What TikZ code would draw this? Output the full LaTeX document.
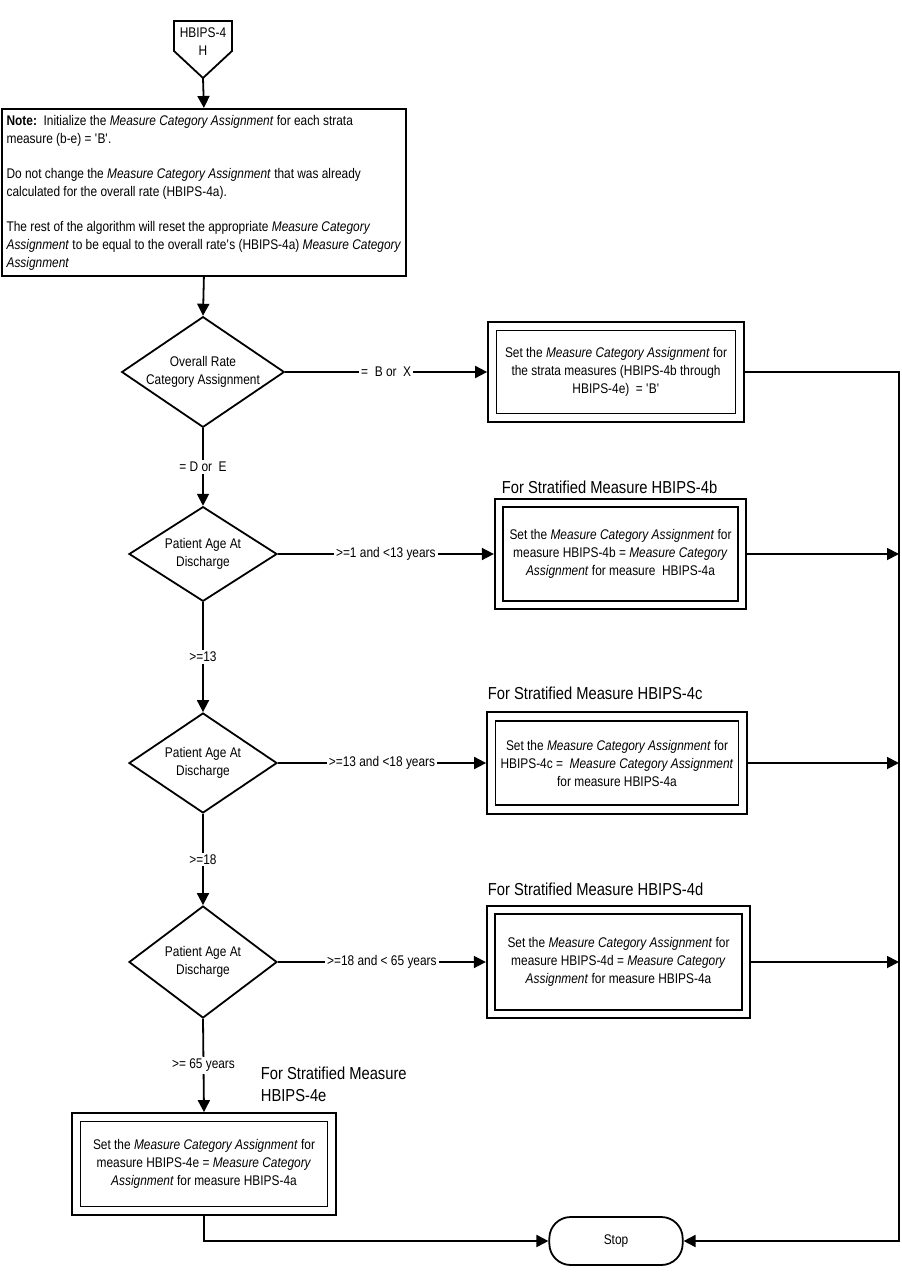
\documentclass[tikz,border=0pt]{standalone}
\usepackage{fontspec}
\setmainfont{Liberation Sans}[FakeStretch=0.85]
\usetikzlibrary{shapes,arrows.meta}

\begin{document}
\begin{tikzpicture}[x=0.75pt,y=-0.75pt,line width=1.35pt,
      every node/.style={font=\fontsize{10.5}{13.5}\selectfont},
      decision/.style={diamond,draw,align=center,inner sep=0pt},
      setbox/.style={rectangle,draw,double,double distance=5pt,align=center,inner sep=2pt,outer sep=3.85pt},
      ttl/.style={anchor=west,inner sep=0pt,align=left,font=\fontsize{13}{16.5}\selectfont},
      lbl/.style={fill=white,inner sep=1.5pt},
      arr/.style={-{Triangle[length=9pt,width=9pt]}}]
    \path[use as bounding box] (0,0) rectangle (901,1287);
    \draw (174,21) -- (232,21) -- (232,51) -- (203,78) -- (174,51) -- cycle;
    \node[align=center,inner sep=0pt] (start) at (203,42) {HBIPS-4\\H};
    \coordinate (startTip) at (203,78);
    \node[draw,align=left,anchor=north west,minimum width=303pt,minimum height=125.25pt,inner sep=3pt] (note) at (1,108)
      {\textbf{Note:}\ \ Initialize the \textit{Measure Category Assignment} for each strata\\
       measure (b-e) = \textquotesingle B\textquotesingle.\\[12.75pt]
       Do not change the \textit{Measure Category Assignment} that was already\\
       calculated for the overall rate (HBIPS-4a).\\[12.75pt]
       The rest of the algorithm will reset the appropriate \textit{Measure Category}\\
       \textit{Assignment} to be equal to the overall rate\textquotesingle s (HBIPS-4a) \textit{Measure Category}\\
       \textit{Assignment}};
    \node[decision,aspect=1.47,minimum width=122pt,minimum height=83pt] (dec1) at (203,372) {Overall Rate\\Category Assignment};
    \node[decision,aspect=1.56,minimum width=111pt,minimum height=71pt] (dec2) at (203,554) {Patient Age At\\Discharge};
    \node[decision,aspect=1.48,minimum width=111pt,minimum height=75pt] (dec3) at (203,763) {Patient Age At\\Discharge};
    \node[decision,aspect=1.32,minimum width=111pt,minimum height=84pt] (dec4) at (203,962) {Patient Age At\\Discharge};
    \node[setbox,minimum width=185.6pt,minimum height=68.6pt] (box1) at (616,372)
      {Set the \textit{Measure Category Assignment} for\\the strata measures (HBIPS-4b through\\HBIPS-4e)\ \ = \textquotesingle B\textquotesingle};
    \node[setbox,minimum width=182.3pt,minimum height=76.5pt] (box2) at (620.5,554)
      {Set the \textit{Measure Category Assignment} for\\measure HBIPS-4b = \textit{Measure Category}\\\textit{Assignment} for measure\ \ HBIPS-4a};
    \node[setbox,minimum width=188.6pt,minimum height=69.8pt] (box3) at (617,763)
      {Set the \textit{Measure Category Assignment} for\\HBIPS-4c =\ \ \textit{Measure Category Assignment}\\for measure HBIPS-4a};
    \node[setbox,minimum width=191.3pt,minimum height=78pt] (box4) at (618.5,962)
      {Set the \textit{Measure Category Assignment} for\\measure HBIPS-4d = \textit{Measure Category}\\\textit{Assignment} for measure HBIPS-4a};
    \node[setbox,minimum width=191.6pt,minimum height=70.1pt] (box5) at (204,1164)
      {Set the \textit{Measure Category Assignment} for\\measure HBIPS-4e = \textit{Measure Category}\\\textit{Assignment} for measure HBIPS-4a};
    \node[ttl] (ttl2) at (501,487) {For Stratified Measure HBIPS-4b};
    \node[ttl] (ttl3) at (487,693) {For Stratified Measure HBIPS-4c};
    \node[ttl] (ttl4) at (487,889) {For Stratified Measure HBIPS-4d};
    \node[ttl] (ttl5) at (260,1084) {For Stratified Measure\\HBIPS-4e};
    \node[draw,rounded corners=16pt,minimum width=100pt,minimum height=36pt] (stop) at (616,1241) {Stop};
    \coordinate (rtop) at (899,372);
    \coordinate (rbot) at (899,1241);
    \draw[arr] (startTip) -- (note.north);
    \draw[arr] (note.south) -- (dec1.north);
    \draw[arr] (dec1.east) -- node[lbl] {=\ \ B or\ \ X} (box1.west);
    \draw[arr] (box1.east) -- (rtop) -- (rbot) -- (stop.east);
    \draw[arr] (dec1.south) -- node[lbl] {= D or\ \ E} (dec2.north);
    \draw[arr] (dec2.east) -- node[lbl] {>=1 and <13 years} (box2.west);
    \draw[arr] (box2.east) -- (box2.east -| rtop);
    \draw[arr] (dec2.south) -- node[lbl] {>=13} (dec3.north);
    \draw[arr] (dec3.east) -- node[lbl] {>=13 and <18 years} (box3.west);
    \draw[arr] (box3.east) -- (box3.east -| rtop);
    \draw[arr] (dec3.south) -- node[lbl] {>=18} (dec4.north);
    \draw[arr] (dec4.east) -- node[lbl] {>=18 and < 65 years} (box4.west);
    \draw[arr] (box4.east) -- (box4.east -| rtop);
    \draw[arr] (dec4.south) -- node[lbl] {>= 65 years} (box5.north);
    \draw[arr] (box5.south) |- (stop.west);
\end{tikzpicture}
\end{document}
